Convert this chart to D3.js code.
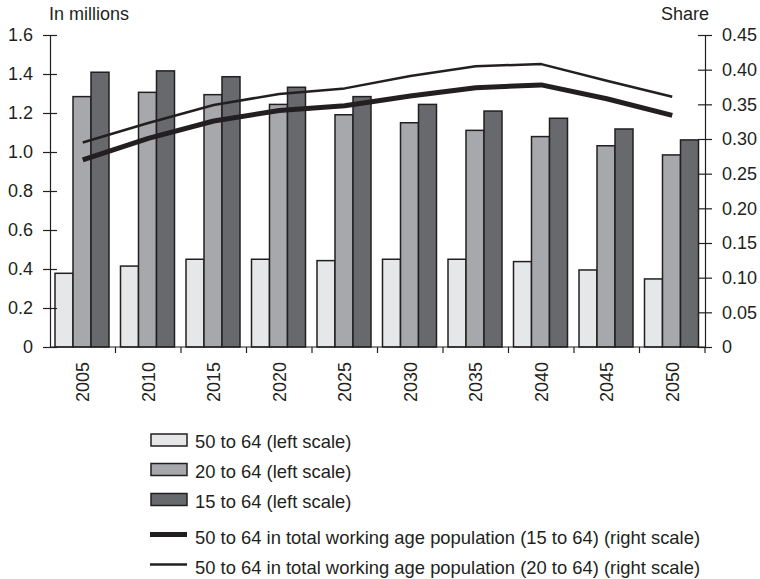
<!DOCTYPE html>
<html><head><meta charset="utf-8">
<script src="https://cdn.jsdelivr.net/npm/d3@7/dist/d3.min.js"></script>
<style>
body{margin:0;background:#fff;}
text{font-family:"Liberation Sans",Arial,Helvetica,sans-serif;fill:#231f20;}
</style></head>
<body><svg id="c" width="760" height="579"></svg>
<script>
const years = ["2005","2010","2015","2020","2025","2030","2035","2040","2045","2050"];
const pop50to64 = [0.378,0.415,0.45,0.45,0.443,0.45,0.45,0.438,0.395,0.349];
const pop20to64 = [1.284,1.306,1.294,1.244,1.191,1.15,1.111,1.079,1.032,0.985];
const pop15to64 = [1.409,1.416,1.386,1.332,1.284,1.244,1.21,1.173,1.118,1.062];
const share15to64 = [0.270,0.301,0.326,0.341,0.348,0.362,0.374,0.378,0.358,0.334];
const share20to64 = [0.295,0.323,0.349,0.365,0.373,0.391,0.405,0.408,0.384,0.361];
const leftTicks = [0,0.2,0.4,0.6,0.8,1.0,1.2,1.4,1.6];
const rightTicks = [0,0.05,0.10,0.15,0.20,0.25,0.30,0.35,0.40,0.45];
const barSeries = [
  {name:"50 to 64 (left scale)", values:pop50to64, color:"#e6e7e9"},
  {name:"20 to 64 (left scale)", values:pop20to64, color:"#a7a8ab"},
  {name:"15 to 64 (left scale)", values:pop15to64, color:"#68696d"}
];
const lineSeries = [
  {name:"50 to 64 in total working age population (15 to 64) (right scale)", values:share15to64, width:5},
  {name:"50 to 64 in total working age population (20 to 64) (right scale)", values:share20to64, width:2.5}
];

const ink = "#231f20";
const svg = d3.select("#c");
const L = 50, R = 705, T = 35, B = 347;

const x = d3.scaleBand().domain(years).range([L,R]).paddingInner(0).paddingOuter(0);
const xi = d3.scaleBand().domain(d3.range(3)).range([5, x.bandwidth()-6.5]).padding(0);
const yL = d3.scaleLinear().domain([0,1.6]).range([B,T]);
const yR = d3.scaleLinear().domain([0,0.45]).range([B,T]);

// bars
barSeries.forEach((s,si)=>{
  svg.append("g").selectAll("rect").data(s.values).join("rect")
    .attr("x",(d,i)=>x(years[i])+xi(si))
    .attr("y",d=>yL(d))
    .attr("width",xi.bandwidth())
    .attr("height",d=>yL(0)-yL(d))
    .attr("fill",s.color).attr("stroke",ink).attr("stroke-width",1.5);
});

// lines
lineSeries.forEach(s=>{
  const line = d3.line().x((d,i)=>x(years[i])+x.bandwidth()/2).y(d=>yR(d));
  svg.append("path").datum(s.values).attr("d",line)
    .attr("fill","none").attr("stroke",ink).attr("stroke-width",s.width)
    .attr("stroke-linejoin","round");
});

// left axis
const gl = svg.append("g").attr("transform",`translate(${L},0)`)
  .call(d3.axisLeft(yL).tickValues(leftTicks).tickSize(7).tickPadding(10)
    .tickFormat(d=>d===0?"0":d3.format(".1f")(d)));
gl.selectAll(".tick line").attr("x2",7).attr("x1",-7);
// right axis
const gr = svg.append("g").attr("transform",`translate(${R},0)`)
  .call(d3.axisRight(yR).tickValues(rightTicks).tickSize(7).tickPadding(10)
    .tickFormat(d=>d===0?"0":d3.format(".2f")(d)));
gr.selectAll(".tick line").attr("x1",-7).attr("x2",7);
// bottom axis
const gb = svg.append("g").attr("transform",`translate(0,${B})`)
  .call(d3.axisBottom(x).tickSize(0).tickPadding(0));
gb.select(".domain").remove();
svg.append("line").attr("x1",L).attr("x2",R).attr("y1",B).attr("y2",B).attr("stroke",ink).attr("stroke-width",1.2);
svg.append("g").selectAll("line").data(years).join("line")
  .attr("x1",d=>x(d)+x.bandwidth()).attr("x2",d=>x(d)+x.bandwidth())
  .attr("y1",B).attr("y2",B+6).attr("stroke",ink).attr("stroke-width",1.2);
gb.selectAll(".tick text")
  .attr("transform","rotate(-90)")
  .attr("x",-15).attr("y",0).attr("dy","0.35em")
  .attr("text-anchor","end");

[gl,gr,gb].forEach(g=>{
  g.selectAll(".domain").attr("stroke",ink).attr("stroke-width",1.2);
  g.selectAll(".tick line").attr("stroke",ink).attr("stroke-width",1.2);
  g.selectAll("text").attr("font-size",18).attr("fill",ink)
    .style("font-family","'Liberation Sans',Arial,sans-serif");
});

svg.append("text").attr("x",49).attr("y",20).attr("font-size",18).text("In millions");
svg.append("text").attr("x",709).attr("y",20).attr("font-size",18).attr("text-anchor","end").text("Share");

// legend
const lg = svg.append("g");
const barRowY = [434, 463.5, 493.5];
barSeries.forEach((s,i)=>{
  const yy = barRowY[i];
  lg.append("rect").attr("x",151).attr("y",yy).attr("width",36).attr("height",12)
    .attr("fill",s.color).attr("stroke",ink).attr("stroke-width",1.5);
  lg.append("text").attr("x",195).attr("y",yy+14).attr("font-size",18.4).text(s.name);
});
const lineRowY = [534.5, 564.5];
lineSeries.forEach((s,i)=>{
  const yy = lineRowY[i];
  lg.append("line").attr("x1",150).attr("x2",187).attr("y1",yy).attr("y2",yy)
    .attr("stroke",ink).attr("stroke-width",s.width);
  lg.append("text").attr("x",195).attr("y",yy+9).attr("font-size",18.4).text(s.name);
});
</script></body></html>
